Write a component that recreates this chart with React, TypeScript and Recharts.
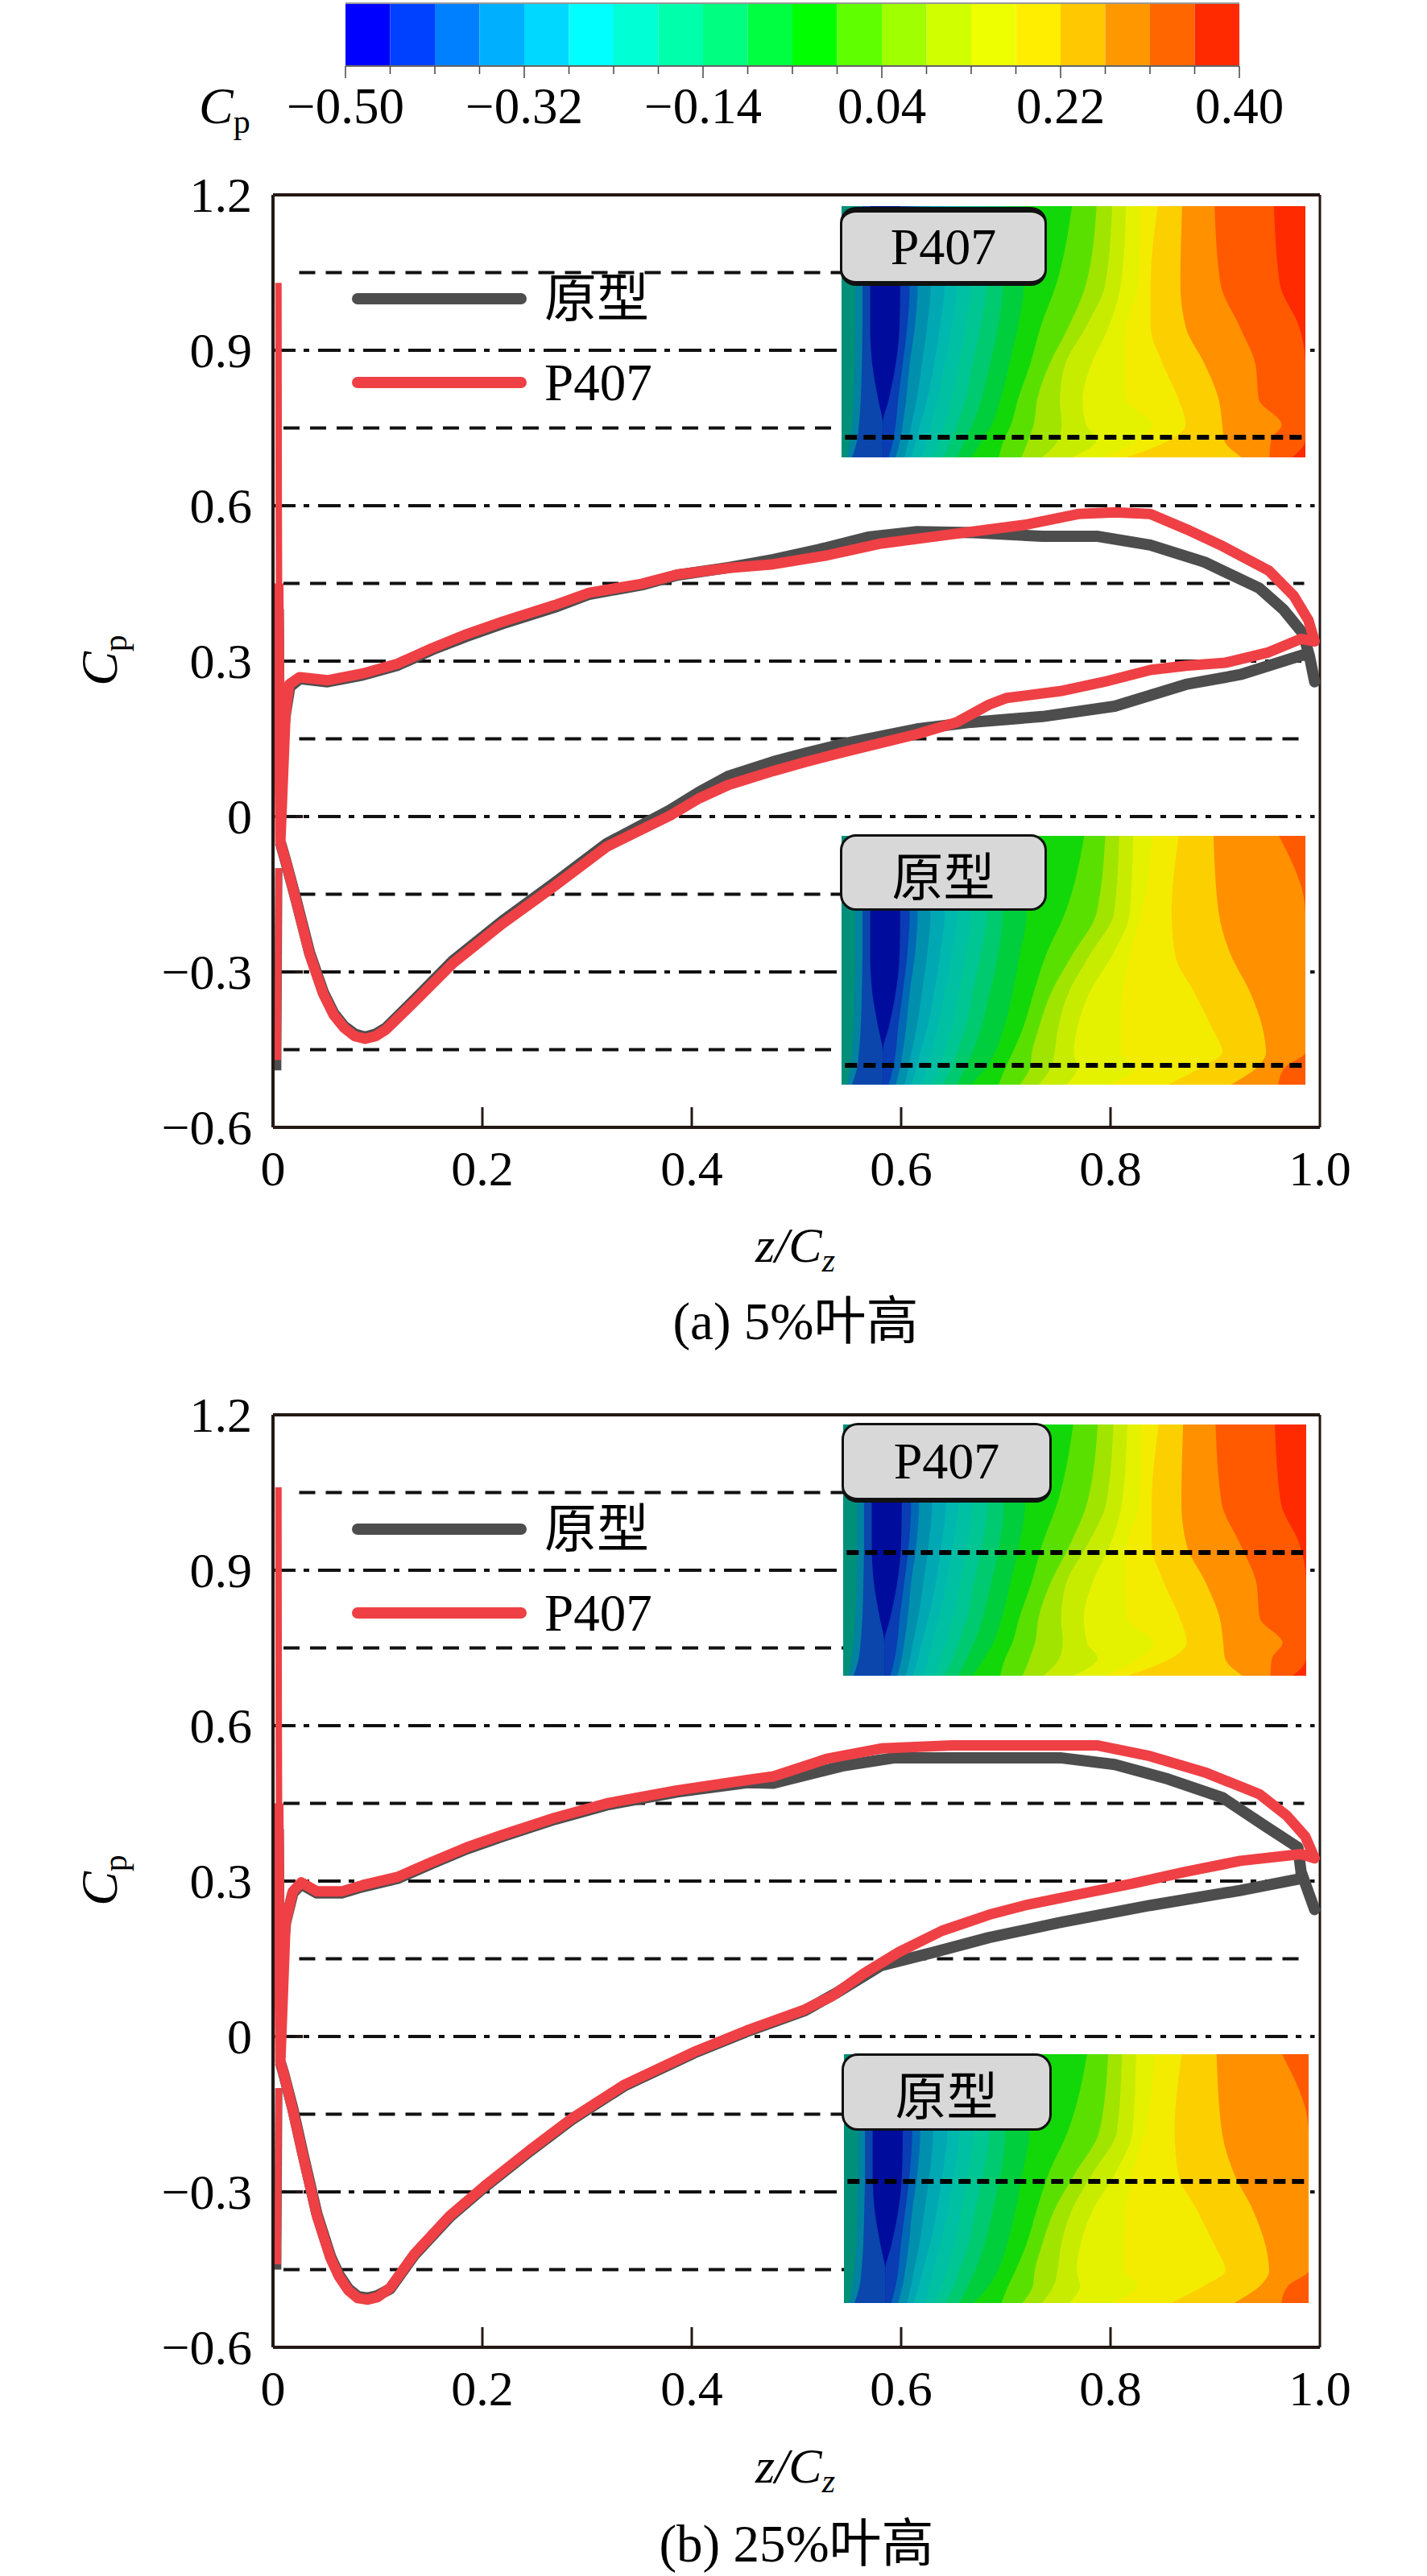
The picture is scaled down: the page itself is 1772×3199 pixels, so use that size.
import { Area, ComposedChart, Legend, Line, ReferenceLine, XAxis, YAxis } from 'recharts';

const FONT = '"Liberation Serif", "Noto Sans CJK SC", serif';
const INK = '#231815';
const GRAY = '#4d4d4d';
const RED = '#ef4045';

// colour bar
const LEVELS = [
  -0.5, -0.455, -0.41, -0.365, -0.32, -0.275, -0.23, -0.185, -0.14, -0.095, -0.05, -0.005, 0.04, 0.085, 0.13, 0.175,
  0.22, 0.265, 0.31, 0.355, 0.4,
];
const LEVEL_COLORS = [
  '#0000ff', '#0040ff', '#0080ff', '#00b0ff', '#00d8ff', '#00ffff', '#00ffd4', '#00ffaa', '#00ff80', '#00ff40',
  '#00ff00', '#60ff00', '#a0ff00', '#d0ff00', '#eeff00', '#ffee00', '#ffc800', '#ff9800', '#ff6600', '#ff2a00',
];

// axes
const Y_TICKS = [-0.6, -0.3, 0, 0.3, 0.6, 0.9, 1.2];
const X_TICKS = [0, 0.2, 0.4, 0.6, 0.8, 1];
const X_INNER_TICKS = [0.2, 0.4, 0.6, 0.8];
const Y_INNER_TICKS = [-0.3, 0, 0.3, 0.6, 0.9];
const Y_INNER_LENGTHS = [0.0285, 0.0285, 0.0195, 0.0195, 0.0195];
const DASHED_LEVELS = [1.05, 0.75, 0.45, 0.15, -0.15, -0.45];
const DASHED_STARTS = [0.025, 0.01, 0.01, 0.025, 0.025, 0.01];
const DASHDOT_LEVELS = [0.9, 0.6, 0.3, 0, -0.3];
const LEGEND_NAMES = ['原型', 'P407'];

// 5% span, [z/Cz, Cp]
const protoA: [number, number][] = [
  [0.005, 0.4], [0.006, 0.1], [0.012, 0.2], [0.016, 0.25], [0.0255, 0.266], [0.052, 0.26], [0.0855, 0.273], [0.119, 0.292],
  [0.152, 0.322], [0.185, 0.348], [0.219, 0.372], [0.269, 0.404], [0.302, 0.429], [0.352, 0.447], [0.386, 0.466],
  [0.436, 0.481], [0.478, 0.496], [0.529, 0.519], [0.57, 0.54], [0.615, 0.55], [0.67, 0.548], [0.735, 0.541],
  [0.787, 0.541], [0.838, 0.524], [0.89, 0.491], [0.942, 0.441], [0.965, 0.4], [0.984, 0.353], [0.99, 0.31], [0.995, 0.26],
  [0.99, 0.31], [0.984, 0.312], [0.924, 0.274], [0.872, 0.255], [0.804, 0.213], [0.735, 0.193], [0.667, 0.182],
  [0.615, 0.169], [0.546, 0.141], [0.508, 0.122], [0.478, 0.106], [0.435, 0.078], [0.407, 0.047], [0.379, 0.012],
  [0.319, -0.052], [0.269, -0.128], [0.219, -0.202], [0.172, -0.278], [0.136, -0.352], [0.108, -0.408], [0.098, -0.42],
  [0.088, -0.426], [0.078, -0.42], [0.068, -0.405], [0.058, -0.38], [0.048, -0.339], [0.035, -0.263], [0.022, -0.16],
  [0.012, -0.085], [0.007, -0.05],
];
const protoATail: [number, number][] = [[0.0055, -0.1], [0.0045, -0.49]];
const p407A: [number, number][] = [
  [0.005, 0.45], [0.007, -0.05], [0.012, 0.2], [0.0155, 0.255], [0.0255, 0.269], [0.052, 0.263], [0.0855, 0.276],
  [0.119, 0.295], [0.152, 0.325], [0.185, 0.352], [0.219, 0.376], [0.269, 0.408], [0.302, 0.432], [0.352, 0.449],
  [0.386, 0.467], [0.436, 0.48], [0.478, 0.487], [0.529, 0.504], [0.581, 0.527], [0.649, 0.545], [0.718, 0.563],
  [0.769, 0.584], [0.804, 0.587], [0.838, 0.584], [0.872, 0.555], [0.907, 0.522], [0.951, 0.475], [0.975, 0.426],
  [0.989, 0.379], [0.995, 0.338], [0.982, 0.343], [0.951, 0.317], [0.91, 0.297], [0.872, 0.291], [0.838, 0.283],
  [0.794, 0.26], [0.752, 0.242], [0.701, 0.229], [0.684, 0.216], [0.653, 0.182], [0.615, 0.159], [0.546, 0.125],
  [0.508, 0.105], [0.478, 0.088], [0.435, 0.061], [0.407, 0.035], [0.379, 0.0015], [0.319, -0.058], [0.269, -0.134],
  [0.219, -0.207], [0.172, -0.283], [0.136, -0.356], [0.108, -0.411], [0.098, -0.424], [0.088, -0.429], [0.078, -0.424],
  [0.068, -0.408], [0.058, -0.383], [0.048, -0.342], [0.035, -0.266], [0.022, -0.162], [0.012, -0.085], [0.007, -0.05],
];
const p407ATop: [number, number][] = [[0.0052, 1.03], [0.0055, 0.6], [0.006, 0.3]];
const p407ATail: [number, number][] = [[0.0055, -0.1], [0.0045, -0.47]];

// 25% span
const protoB: [number, number][] = [
  [0.005, 0.4], [0.006, 0.1], [0.012, 0.22], [0.019, 0.277], [0.027, 0.294], [0.042, 0.277], [0.0655, 0.277],
  [0.0855, 0.289], [0.119, 0.305], [0.152, 0.334], [0.185, 0.362], [0.219, 0.386], [0.269, 0.419], [0.319, 0.447],
  [0.386, 0.472], [0.453, 0.49], [0.478, 0.489], [0.546, 0.523], [0.594, 0.538], [0.67, 0.538], [0.752, 0.538],
  [0.804, 0.525], [0.855, 0.497], [0.907, 0.461], [0.948, 0.406], [0.979, 0.365], [0.982, 0.318], [0.995, 0.245],
  [0.982, 0.318], [0.982, 0.305], [0.924, 0.282], [0.838, 0.253], [0.752, 0.22], [0.684, 0.191], [0.632, 0.163],
  [0.581, 0.137], [0.539, 0.085], [0.508, 0.05], [0.452, 0.009], [0.402, -0.032], [0.335, -0.096], [0.285, -0.161],
  [0.245, -0.222], [0.202, -0.291], [0.169, -0.348], [0.135, -0.422], [0.112, -0.487], [0.1, -0.5], [0.0905, -0.505],
  [0.081, -0.502], [0.072, -0.487], [0.063, -0.46], [0.055, -0.425], [0.042, -0.343], [0.029, -0.23], [0.019, -0.14],
  [0.01, -0.07], [0.007, -0.05],
];
const protoBTail: [number, number][] = [[0.0055, -0.1], [0.0045, -0.45]];
const p407B: [number, number][] = [
  [0.005, 0.45], [0.007, -0.05], [0.012, 0.22], [0.019, 0.28], [0.027, 0.2975], [0.042, 0.28], [0.0655, 0.28],
  [0.0855, 0.292], [0.119, 0.308], [0.152, 0.337], [0.185, 0.365], [0.219, 0.389], [0.269, 0.422], [0.319, 0.45],
  [0.386, 0.475], [0.453, 0.495], [0.478, 0.502], [0.529, 0.536], [0.581, 0.556], [0.649, 0.562], [0.787, 0.562],
  [0.838, 0.541], [0.89, 0.51], [0.942, 0.468], [0.968, 0.427], [0.986, 0.386], [0.995, 0.344], [0.982, 0.352],
  [0.924, 0.339], [0.872, 0.318], [0.821, 0.295], [0.769, 0.274], [0.718, 0.253], [0.684, 0.235], [0.639, 0.204],
  [0.598, 0.163], [0.564, 0.121], [0.534, 0.078], [0.508, 0.052], [0.452, 0.011], [0.402, -0.03], [0.335, -0.094],
  [0.285, -0.159], [0.245, -0.22], [0.202, -0.289], [0.169, -0.346], [0.135, -0.42], [0.112, -0.485], [0.1, -0.503],
  [0.0905, -0.508], [0.081, -0.505], [0.072, -0.49], [0.063, -0.463], [0.055, -0.428], [0.042, -0.346], [0.029, -0.233],
  [0.019, -0.143], [0.01, -0.07], [0.007, -0.05],
];
const p407BTop: [number, number][] = [[0.0052, 1.06], [0.0055, 0.6], [0.006, 0.3]];
const p407BTail: [number, number][] = [[0.0055, -0.1], [0.0045, -0.44]];

// contour insets: span fraction of each row, then the right edge of every band at those rows
const INSET_ROWS = [0, 0.31, 0.48, 0.63, 0.77, 0.87, 0.93, 1];
const INSET_MIN = 150;
const INSET_MAX = 1478;
const BAND_COLORS = [
  '#008f78', '#0082a0', '#0a46ac', '#000c9c', '#0a3cb4', '#0068b4', '#0090ae', '#00a8b4', '#00b8ae', '#00c0a4',
  '#00c694', '#00ca70', '#00ce3c', '#12d80a', '#5ae000', '#a0e400', '#c8ec00', '#e4f200', '#f4ec00', '#fcd000',
  '#ff9000', '#ff5a00', '#ff2a00',
];
const EDGES_LEFT = [
  [190, 190, 190, 188, 185, 180, 175, 165],
  [210, 210, 210, 208, 205, 200, 195, 180],
  [232, 232, 232, 238, 255, 268, 268, 268],
  [318, 318, 316, 305, 285, 268, 268, 268],
  [345, 345, 338, 325, 312, 305, 298, 285],
  [368, 368, 360, 345, 335, 325, 318, 305],
  [405, 405, 395, 380, 365, 350, 342, 330],
  [445, 445, 432, 415, 395, 375, 365, 350],
  [480, 480, 465, 445, 425, 405, 395, 380],
  [520, 520, 505, 485, 465, 445, 430, 410],
  [565, 565, 548, 525, 505, 480, 465, 440],
  [612, 612, 598, 575, 550, 525, 505, 480],
];
const EDGES_P407 = [
  [672, 672, 655, 630, 605, 580, 555, 520],
  [810, 765, 720, 690, 655, 635, 615, 600],
  [880, 850, 800, 745, 710, 700, 685, 665],
  [925, 905, 850, 790, 775, 780, 770, 725],
  [965, 950, 915, 865, 840, 850, 880, 810],
  [1005, 1000, 965, 960, 965, 1040, 1000, 900],
  [1055, 1035, 1035, 1070, 1115, 1135, 1090, 965],
  [1125, 1120, 1135, 1190, 1230, 1240, 1245, 1295],
  [1218, 1235, 1290, 1335, 1345, 1410, 1380, 1375],
  [1388, 1405, 1460, 1478, 1478, 1478, 1478, 1440],
  [1478, 1478, 1478, 1478, 1478, 1478, 1478, 1478],
];
const EDGES_PROTO = [
  [680, 680, 660, 640, 615, 590, 565, 520],
  [845, 790, 735, 700, 670, 640, 620, 600],
  [905, 880, 810, 750, 715, 695, 690, 660],
  [945, 930, 860, 800, 770, 760, 750, 715],
  [985, 975, 925, 860, 825, 815, 825, 795],
  [1040, 1010, 975, 955, 950, 950, 990, 915],
  [1115, 1095, 1105, 1160, 1210, 1240, 1180, 1085],
  [1215, 1230, 1265, 1320, 1355, 1365, 1340, 1265],
  [1402, 1478, 1478, 1478, 1478, 1478, 1420, 1400],
  [1478, 1478, 1478, 1478, 1478, 1478, 1478, 1478],
  [1478, 1478, 1478, 1478, 1478, 1478, 1478, 1478],
];

const toPoints = (pairs: [number, number][]) => pairs.map(([x, y]) => ({ x, y }));
const signed = (v: number, digits: number) => (v < 0 ? `\u2212${Math.abs(v).toFixed(digits)}` : v.toFixed(digits));

const buildRows = (edges: number[][]) =>
  INSET_ROWS.map((h, r) => {
    const row: Record<string, number> = { h };
    edges.forEach((e, i) => {
      row[`b${i}`] = e[r];
    });
    return row;
  });

const ColorBarTick = ({ x, y, index }: any) => {
  const major = index % 4 === 0;
  return (
    <g>
      <line x1={x} x2={x} y1={y} y2={y + (major ? 15 : 10)} stroke="#444" strokeWidth={1.5} />
      {major && (
        <text x={x} y={y + 71} textAnchor="middle" fontFamily={FONT} fontSize={63} fill="#000">
          {signed(LEVELS[index], 2)}
        </text>
      )}
    </g>
  );
};

const ColorBar = () => (
  <div style={{ position: 'absolute', left: 0, top: 0 }}>
    <ComposedChart width={1772} height={180} margin={{ top: 4, left: 429, right: 233, bottom: 0 }}>
      <XAxis
        type="number"
        dataKey="x"
        domain={[-0.5, 0.4]}
        ticks={LEVELS}
        interval={0}
        height={98}
        tickLine={false}
        tickSize={0}
        tickMargin={0}
        axisLine={{ stroke: '#666', strokeWidth: 2 }}
        tick={<ColorBarTick />}
      />
      <YAxis hide type="number" domain={[0, 1]} />
      {LEVEL_COLORS.map((color, i) => (
        <Area
          key={i}
          data={[{ x: LEVELS[i], v: 1 }, { x: LEVELS[i + 1], v: 1 }]}
          dataKey="v"
          type="linear"
          fill={color}
          fillOpacity={1}
          stroke="none"
          dot={false}
          activeDot={false}
          isAnimationActive={false}
        />
      ))}
      <ReferenceLine y={1} stroke="#999" strokeWidth={2} />
    </ComposedChart>
  </div>
);

const XTick = ({ x, y, payload }: any) => (
  <text x={x} y={y + 72} textAnchor="middle" fontFamily={FONT} fontSize={62} fill="#000">
    {payload.value === 0 ? '0' : payload.value.toFixed(1)}
  </text>
);

const YTick = ({ x, y, payload }: any) => (
  <text x={x - 26} y={y + 21} textAnchor="end" fontFamily={FONT} fontSize={62} fill="#000">
    {payload.value === 0 ? '0' : signed(payload.value, 1)}
  </text>
);

const PressureLegend = ({ payload }: any) => (
  <div style={{ width: 400, fontFamily: FONT, fontSize: 65, color: '#000' }}>
    {(payload || [])
      .filter((item: any) => LEGEND_NAMES.includes(item.value))
      .map((item: any) => (
        <div key={item.value} style={{ position: 'relative', height: 104 }}>
          <div
            style={{
              position: 'absolute',
              left: 0,
              top: 45,
              width: 217,
              height: 14,
              borderRadius: 7,
              background: item.color,
            }}
          />
          <div style={{ position: 'absolute', left: 239, top: 14, lineHeight: '76px' }}>{item.value}</div>
        </div>
      ))}
  </div>
);

const PressureChart = ({ top, proto, protoTail, p407, p407Top, p407Tail, legendTop }: any) => (
  <div style={{ position: 'absolute', left: 0, top: top - 72 }}>
    <ComposedChart width={1772} height={1430} margin={{ top: 72, left: 239, right: 133, bottom: 100 }}>
      <XAxis
        type="number"
        dataKey="x"
        domain={[0, 1]}
        ticks={X_TICKS}
        interval={0}
        height={100}
        tickSize={0}
        tickMargin={0}
        tickLine={false}
        axisLine={{ stroke: INK, strokeWidth: 4 }}
        tick={<XTick />}
      />
      <YAxis
        type="number"
        domain={[-0.6, 1.2]}
        ticks={Y_TICKS}
        interval={0}
        width={100}
        tickSize={0}
        tickMargin={0}
        tickLine={false}
        axisLine={{ stroke: INK, strokeWidth: 4 }}
        tick={<YTick />}
      />
      <ReferenceLine y={1.2} stroke={INK} strokeWidth={4} />
      <ReferenceLine x={1} stroke={INK} strokeWidth={3} />
      {X_INNER_TICKS.map((v) => (
        <ReferenceLine
          key={v}
          ifOverflow="visible"
          segment={[{ x: v, y: -0.6 }, { x: v, y: -0.561 }]}
          stroke={INK}
          strokeWidth={3}
        />
      ))}
      {Y_INNER_TICKS.map((v, i) => (
        <ReferenceLine
          key={v}
          ifOverflow="visible"
          segment={[{ x: 0, y: v }, { x: Y_INNER_LENGTHS[i], y: v }]}
          stroke={INK}
          strokeWidth={4}
        />
      ))}
      {DASHED_LEVELS.map((v, i) => (
        <ReferenceLine
          key={v}
          segment={[{ x: DASHED_STARTS[i], y: v }, { x: 0.985, y: v }]}
          stroke="#111"
          strokeWidth={4}
          strokeDasharray="20 13"
        />
      ))}
      {DASHDOT_LEVELS.map((v) => (
        <ReferenceLine
          key={v}
          segment={[{ x: 0, y: v }, { x: 0.995, y: v }]}
          stroke="#111"
          strokeWidth={4}
          strokeDasharray="28 10 7 11"
        />
      ))}
      <Line
        data={toPoints(proto)}
        name="原型"
        dataKey="y"
        stroke={GRAY}
        strokeWidth={14}
        strokeLinejoin="round"
        dot={false}
        activeDot={false}
        isAnimationActive={false}
      />
      <Line
        data={toPoints(protoTail)}
        name="原型 tail"
        legendType="none"
        dataKey="y"
        stroke={GRAY}
        strokeWidth={9}
        dot={false}
        activeDot={false}
        isAnimationActive={false}
      />
      <Line
        data={toPoints(p407)}
        name="P407"
        dataKey="y"
        stroke={RED}
        strokeWidth={13}
        strokeLinejoin="round"
        dot={false}
        activeDot={false}
        isAnimationActive={false}
      />
      <Line
        data={toPoints(p407Top)}
        name="P407 top"
        legendType="none"
        dataKey="y"
        stroke={RED}
        strokeWidth={8}
        dot={false}
        activeDot={false}
        isAnimationActive={false}
      />
      <Line
        data={toPoints(p407Tail)}
        name="P407 tail"
        legendType="none"
        dataKey="y"
        stroke={RED}
        strokeWidth={8}
        dot={false}
        activeDot={false}
        isAnimationActive={false}
      />
      <Legend
        layout="vertical"
        align="center"
        verticalAlign="middle"
        itemSorter={null}
        content={<PressureLegend />}
        wrapperStyle={{ left: 437, top: legendTop, width: 400 }}
      />
    </ComposedChart>
  </div>
);

const Inset = ({ left, top, width, height, edges, lineAt, label, box }: any) => {
  const rows = buildRows(edges);
  return (
    <>
      <div style={{ position: 'absolute', left, top }}>
        <ComposedChart
          layout="vertical"
          width={width}
          height={height}
          data={rows}
          margin={{ top: 0, left: 0, right: 0, bottom: 0 }}
        >
          <XAxis hide type="number" domain={[INSET_MIN, INSET_MAX]} allowDataOverflow />
          <YAxis hide type="number" dataKey="h" domain={[0, 1]} />
          {BAND_COLORS.map((_, i) => BAND_COLORS.length - 1 - i).map((i) => (
            <Area
              key={i}
              type="monotoneY"
              dataKey={`b${i}`}
              fill={BAND_COLORS[i]}
              fillOpacity={1}
              stroke="none"
              dot={false}
              activeDot={false}
              isAnimationActive={false}
            />
          ))}
          <ReferenceLine
            segment={[{ x: 160, y: lineAt }, { x: INSET_MAX, y: lineAt }]}
            stroke="#000"
            strokeWidth={6}
            strokeDasharray="15 8"
          />
        </ComposedChart>
      </div>
      <div
        style={{
          position: 'absolute',
          boxSizing: 'border-box',
          left: box.left,
          top: box.top,
          width: box.width,
          height: box.height,
          background: '#d8d8d8',
          border: '3.5px solid #111',
          borderTopWidth: box.thickTop ? 7 : 3.5,
          borderBottomWidth: box.thickBottom ? 6 : 3.5,
          borderRadius: 20,
          display: 'flex',
          alignItems: 'center',
          justifyContent: 'center',
          fontFamily: FONT,
          fontSize: 64,
          color: '#000',
        }}
      >
        {label}
      </div>
    </>
  );
};

const PageText = () => (
  <svg
    width={1772}
    height={3199}
    style={{ position: 'absolute', left: 0, top: 0, pointerEvents: 'none' }}
    fontFamily={FONT}
    fill="#000"
  >
    <text x={247} y={153} fontSize={64} fontStyle="italic">
      C<tspan fontSize={42} fontStyle="normal" dy={12}>p</tspan>
    </text>
    {[820, 2335].map((cy) => (
      <text key={cy} x={145} y={cy} fontSize={64} fontStyle="italic" textAnchor="middle" transform={`rotate(-90 145 ${cy})`}>
        C<tspan fontSize={42} fontStyle="normal" dy={12}>p</tspan>
      </text>
    ))}
    {[1567, 3083].map((by) => (
      <text key={by} x={938} y={by} fontSize={62} fontStyle="italic">
        z/C<tspan fontSize={42} dy={12}>z</tspan>
      </text>
    ))}
    <text x={988} y={1663} fontSize={65} textAnchor="middle">(a) 5%叶高</text>
    <text x={989} y={3181} fontSize={65} textAnchor="middle">(b) 25%叶高</text>
  </svg>
);

export default function App() {
  return (
    <div style={{ position: 'absolute', left: 0, top: 0, width: 1772, height: 3199, background: '#fff' }}>
      <ColorBar />
      <PressureChart
        top={242}
        proto={protoA}
        protoTail={protoATail}
        p407={p407A}
        p407Top={p407ATop}
        p407Tail={p407ATail}
        legendTop={149}
      />
      <PressureChart
        top={1757}
        proto={protoB}
        protoTail={protoBTail}
        p407={p407B}
        p407Top={p407BTop}
        p407Tail={p407BTail}
        legendTop={162}
      />
      <Inset
        left={1045}
        top={256}
        width={576}
        height={312}
        edges={[...EDGES_LEFT, ...EDGES_P407]}
        lineAt={0.92}
        label="P407"
        box={{ left: 1043, top: 257, width: 257, height: 98, thickTop: true, thickBottom: true }}
      />
      <Inset
        left={1045}
        top={1038}
        width={576}
        height={309}
        edges={[...EDGES_LEFT, ...EDGES_PROTO]}
        lineAt={0.922}
        label="原型"
        box={{ left: 1043, top: 1036, width: 257, height: 95 }}
      />
      <Inset
        left={1047}
        top={1769}
        width={575}
        height={312}
        edges={[...EDGES_LEFT, ...EDGES_P407]}
        lineAt={0.51}
        label="P407"
        box={{ left: 1045, top: 1767, width: 261, height: 99, thickBottom: true }}
      />
      <Inset
        left={1048}
        top={2551}
        width={577}
        height={309}
        edges={[...EDGES_LEFT, ...EDGES_PROTO]}
        lineAt={0.511}
        label="原型"
        box={{ left: 1045, top: 2550, width: 261, height: 96 }}
      />
      <PageText />
    </div>
  );
}
